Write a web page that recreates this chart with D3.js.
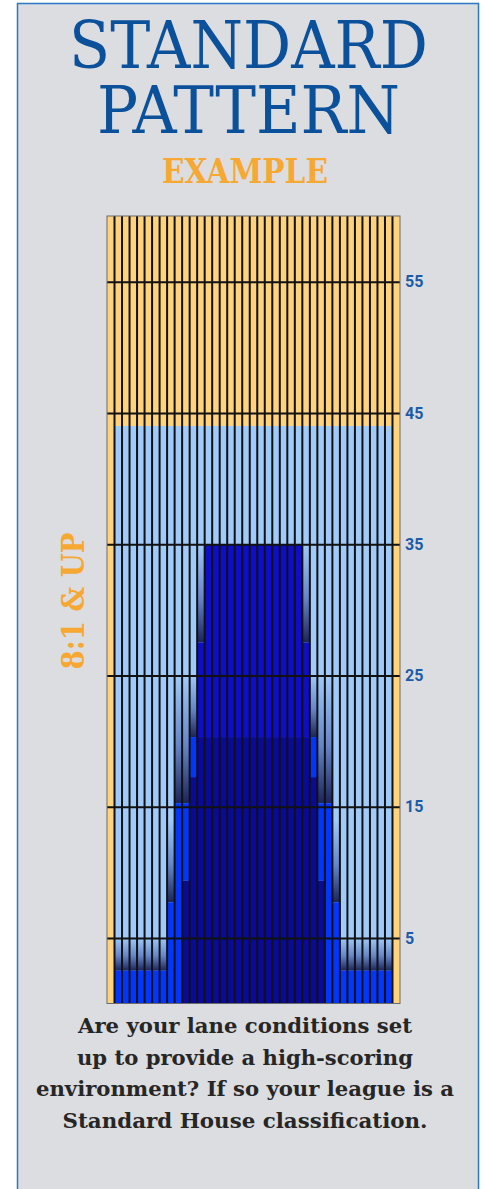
<!DOCTYPE html>
<html>
<head>
<meta charset="utf-8">
<script src="https://cdn.jsdelivr.net/npm/d3@7"></script>
<style>
  html, body { margin: 0; padding: 0; background: #fff; }
  svg { display: block; }
</style>
</head>
<body>
<svg id="chart"></svg>
<script>
// Boards across the lane, left to right
const boards = d3.range(1, 40);

// Distance ticks down the lane (feet)
const tickFeet = [5, 15, 25, 35, 45, 55];
const laneFeet = 60;

// Base (light) oil length per board
const oilLength = [0, 44, 44, 44, 44, 44, 44, 44, 44, 44, 44, 44, 44, 44, 44, 44, 44, 44, 44, 44,
  44, 44, 44, 44, 44, 44, 44, 44, 44, 44, 44, 44, 44, 44, 44, 44, 44, 44, 0];

// Heaviest load (navy), from the foul line up
const navyTop = [0, 0, 0, 0, 0, 0, 0, 0, 0, 0, 9.35, 17.25, 20.3, 20.3, 20.3, 20.3, 20.3, 20.3, 20.3, 20.3,
  20.3, 20.3, 20.3, 20.3, 20.3, 20.3, 20.3, 17.25, 9.35, 0, 0, 0, 0, 0, 0, 0, 0, 0, 0];

// Bright blue load on top of navy
const brightTop = [0, 2.5, 2.5, 2.5, 2.5, 2.5, 2.5, 2.5, 7.7, 15.26, 15.26, 20.3, 20.3, 20.3, 20.3, 20.3, 20.3, 20.3, 20.3, 20.3,
  20.3, 20.3, 20.3, 20.3, 20.3, 20.3, 20.3, 20.3, 15.26, 15.26, 7.7, 2.5, 2.5, 2.5, 2.5, 2.5, 2.5, 2.5, 0];

// Royal blue block in the middle
const royalTop = [0, 2.5, 2.5, 2.5, 2.5, 2.5, 2.5, 2.5, 7.7, 15.26, 15.26, 20.3, 27.5, 35, 35, 35, 35, 35, 35, 35,
  35, 35, 35, 35, 35, 35, 27.5, 20.3, 15.26, 15.26, 7.7, 2.5, 2.5, 2.5, 2.5, 2.5, 2.5, 2.5, 0];

// Where the taper back to light oil ends
const fadeTop = [0, 5, 5, 5, 5, 5, 5, 5, 14, 25, 25, 25, 35, 35, 35, 35, 35, 35, 35, 35,
  35, 35, 35, 35, 35, 35, 35, 25, 25, 25, 14, 5, 5, 5, 5, 5, 5, 5, 0];

const titleLines = ['STANDARD', 'PATTERN'];
const titleWidths = [359, 303];

const descLines = [
  'Are your lane conditions set',
  'up to provide a high-scoring',
  'environment? If so your league is a',
  'Standard House classification.'
];
const descWidths = [334, 336, 418, 365];

const W = 485;
const H = 1189;

const colors = {
  bg: '#dcdde0',
  frame: '#2a78c8',
  title: '#0b509b',
  orange: '#f6a833',
  dry: '#ffd37b',
  light: '#9fcaf9',
  fadeMid: '#6585c8',
  fadeDark: '#1b2459',
  bright: '#0036ff',
  royal: '#0d0dca',
  navy: '#09099a',
  tick: '#1a5ca8',
  text: '#262626'
};

const lane = {left: 107, right: 400, top: 216, bottom: 1003.5};

const svg = d3.select('#chart')
  .attr('width', W)
  .attr('height', H);

svg.append('rect')
  .attr('x', 17.5)
  .attr('y', 3.5)
  .attr('width', 461)
  .attr('height', H)
  .attr('fill', colors.bg)
  .attr('stroke', colors.frame)
  .attr('stroke-width', 1.5);

const grad = svg.append('defs').append('linearGradient')
  .attr('id', 'fade')
  .attr('x1', 0).attr('y1', 0)
  .attr('x2', 0).attr('y2', 1);
grad.append('stop').attr('offset', '0%').attr('stop-color', colors.light);
grad.append('stop').attr('offset', '55%').attr('stop-color', colors.fadeMid);
grad.append('stop').attr('offset', '100%').attr('stop-color', colors.fadeDark);

const x = d3.scaleBand()
  .domain(boards)
  .range([lane.left, lane.right]);

const y = d3.scaleLinear()
  .domain([0, laneFeet])
  .range([lane.bottom, lane.top]);

const chart = svg.append('g');

// One layer of rects per board between two heights
function layer(cls, fill, lo, hi) {
  chart.append('g')
    .attr('class', cls)
    .selectAll('rect')
    .data(boards.filter((b, i) => hi(i) > lo(i)))
    .enter().append('rect')
      .attr('x', d => x(d))
      .attr('width', x.bandwidth())
      .attr('y', d => y(hi(d - 1)))
      .attr('height', d => y(lo(d - 1)) - y(hi(d - 1)))
      .attr('fill', fill);
}

layer('dry', colors.dry, () => 0, () => laneFeet);
layer('light', colors.light, () => 0, i => oilLength[i]);
layer('fade', 'url(#fade)', i => royalTop[i], i => fadeTop[i]);
layer('royal', colors.royal, i => brightTop[i], i => royalTop[i]);
layer('bright', colors.bright, i => navyTop[i], i => brightTop[i]);
layer('navy', colors.navy, () => 0, i => navyTop[i]);

// Board separators
chart.append('g')
  .selectAll('line')
  .data(boards.slice(1))
  .enter().append('line')
    .attr('x1', d => x(d))
    .attr('x2', d => x(d))
    .attr('y1', y(0))
    .attr('y2', y(laneFeet))
    .attr('stroke', '#111')
    .attr('stroke-width', 2);

// Distance axis with gridlines across the lane
const yAxis = d3.axisRight(y)
  .tickValues(tickFeet)
  .tickSize(-(lane.right - lane.left))
  .tickPadding(5);

const axisY = svg.append('g')
  .attr('transform', `translate(${lane.right}, 0)`)
  .call(yAxis);

axisY.select('.domain').remove();
axisY.selectAll('.tick line')
  .attr('stroke', '#111')
  .attr('stroke-width', 2);
axisY.selectAll('.tick text')
  .attr('fill', colors.tick)
  .attr('font-family', 'Roboto, sans-serif')
  .attr('font-weight', 'bold')
  .attr('font-size', 16);

svg.append('rect')
  .attr('x', lane.left)
  .attr('y', lane.top)
  .attr('width', lane.right - lane.left)
  .attr('height', lane.bottom - lane.top)
  .attr('fill', 'none')
  .attr('stroke', '#6b6b6b')
  .attr('stroke-width', 1);

// Title, two lines in one text block
svg.append('text')
  .attr('text-anchor', 'middle')
  .attr('font-family', 'DejaVu Serif, serif')
  .attr('font-size', 66)
  .attr('fill', colors.title)
  .selectAll('tspan')
  .data(titleLines)
  .enter().append('tspan')
    .attr('x', 248.5)
    .attr('y', (d, i) => 68 + i * 64.5)
    .attr('textLength', (d, i) => titleWidths[i])
    .attr('lengthAdjust', 'spacingAndGlyphs')
    .text(d => d);

svg.append('text')
  .attr('x', 245).attr('y', 183)
  .attr('text-anchor', 'middle')
  .attr('font-family', 'DejaVu Serif, serif')
  .attr('font-weight', 'bold')
  .attr('font-size', 34)
  .attr('fill', colors.orange)
  .attr('textLength', 166)
  .attr('lengthAdjust', 'spacingAndGlyphs')
  .text('EXAMPLE');

svg.append('text')
  .attr('transform', 'translate(84, 601) rotate(-90)')
  .attr('text-anchor', 'middle')
  .attr('font-family', 'DejaVu Serif, serif')
  .attr('font-weight', 'bold')
  .attr('font-size', 32)
  .attr('fill', colors.orange)
  .attr('textLength', 137)
  .attr('lengthAdjust', 'spacingAndGlyphs')
  .text('8:1 & UP');

svg.append('g')
  .selectAll('text')
  .data(descLines)
  .enter().append('text')
    .attr('x', 245)
    .attr('y', (d, i) => 1033 + i * 31.7)
    .attr('text-anchor', 'middle')
    .attr('font-family', 'DejaVu Serif, serif')
    .attr('font-weight', 'bold')
    .attr('font-size', 21)
    .attr('fill', colors.text)
    .attr('textLength', (d, i) => descWidths[i])
    .attr('lengthAdjust', 'spacingAndGlyphs')
    .text(d => d);
</script>
</body>
</html>
